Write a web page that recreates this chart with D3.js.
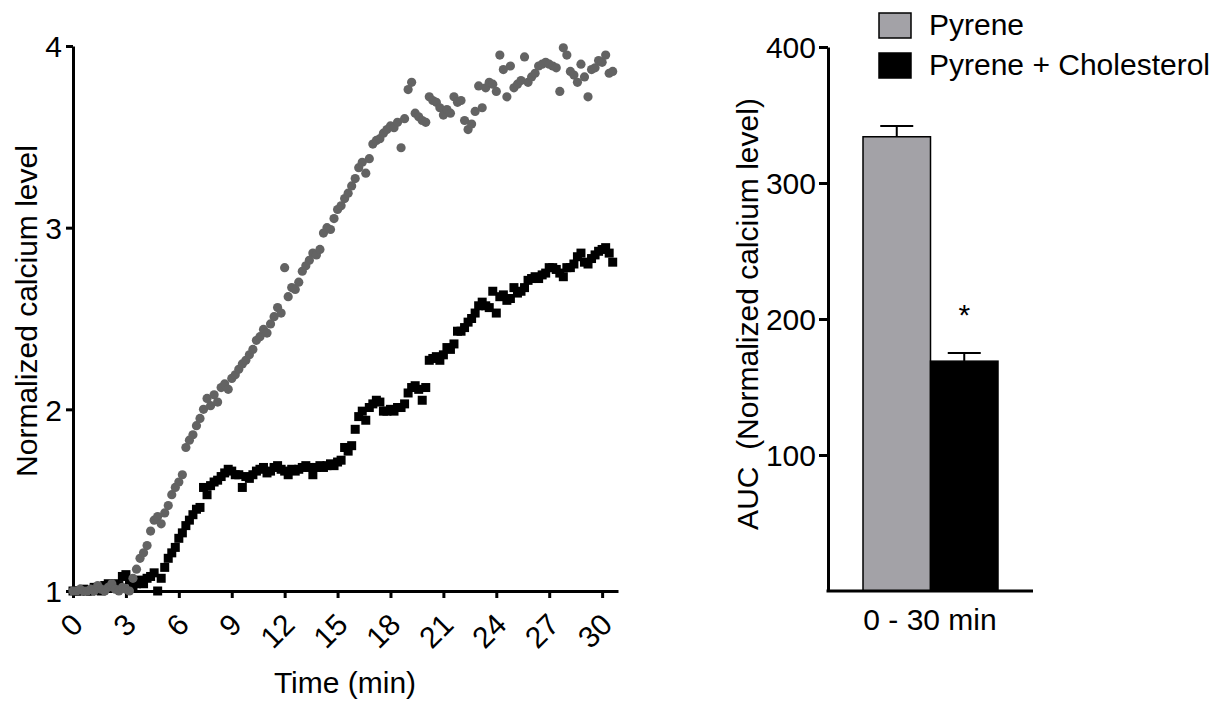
<!DOCTYPE html>
<html>
<head>
<meta charset="UTF-8">
<title>Calcium level</title>
<script src="https://d3js.org/d3.v7.min.js"></script>
<style>
    body { margin: 0; background: white; }
    text { font-family: "Liberation Sans", Arial, sans-serif; fill: black; }
    .axis path, .axis line { stroke: black; stroke-width: 3; }
    .axis text { font-size: 30px; font-family: "Liberation Sans", Arial, sans-serif; }
    .label { font-size: 30px; }
</style>
</head>
<body>
<script>
// sampling interval of the time course (min)
var stepMin = 0.2;

var pyrene = [
    1.00, 1.00, 1.01, 1.00, 1.00, 1.01, 1.00, 1.03, 1.01, 1.00,
    1.02, 1.04, 1.01, 1.00, 1.02, 1.01, 1.00, 1.07, 1.12, 1.18,
    1.21, 1.25, 1.33, 1.39, 1.41, 1.37, 1.43, 1.47, 1.53, 1.57,
    1.60, 1.64, 1.79, 1.83, 1.86, 1.91, 1.95, 2.00, 2.06, 2.02,
    2.08, 2.04, 2.12, 2.14, 2.11, 2.17, 2.19, 2.22, 2.25, 2.27,
    2.30, 2.33, 2.38, 2.40, 2.44, 2.42, 2.47, 2.51, 2.56, 2.53,
    2.78, 2.62, 2.67, 2.66, 2.70, 2.76, 2.79, 2.82, 2.86, 2.85,
    2.88, 2.97, 3.00, 2.99, 3.05, 3.10, 3.12, 3.16, 3.19, 3.23,
    3.27, 3.33, 3.36, 3.30, 3.38, 3.46, 3.48, 3.49, 3.52, 3.54,
    3.56, 3.55, 3.58, 3.44, 3.60, 3.76, 3.80, 3.63, 3.61, 3.59,
    3.58, 3.72, 3.70, 3.69, 3.66, 3.62, 3.65, 3.63, 3.72, 3.69,
    3.70, 3.59, 3.54, 3.57, 3.64, 3.78, 3.66, 3.77, 3.80, 3.79,
    3.75, 3.95, 3.87, 3.72, 3.89, 3.77, 3.79, 3.81, 3.94, 3.80,
    3.83, 3.85, 3.89, 3.90, 3.91, 3.90, 3.89, 3.88, 3.75, 3.99,
    3.95, 3.86, 3.84, 3.80, 3.90, 3.83, 3.72, 3.87, 3.88, 3.92,
    3.91, 3.95, 3.85, 3.86
];

var pyreneChol = [
    1.00, 1.00, 1.00, 1.01, 1.00, 1.00, 1.02, 1.01, 1.00, 1.03,
    1.04, 1.02, 1.04, 1.03, 1.08, 1.09, 1.06, 1.03, 1.04, 1.06,
    1.04, 1.07, 1.08, 1.10, 1.00, 1.07, 1.13, 1.18, 1.21, 1.24,
    1.29, 1.32, 1.36, 1.39, 1.42, 1.45, 1.46, 1.57, 1.53, 1.58,
    1.60, 1.61, 1.63, 1.65, 1.67, 1.66, 1.64, 1.64, 1.57, 1.63,
    1.62, 1.64, 1.66, 1.67, 1.68, 1.65, 1.66, 1.68, 1.69, 1.67,
    1.66, 1.64, 1.67, 1.66, 1.67, 1.68, 1.69, 1.68, 1.64, 1.68,
    1.69, 1.68, 1.69, 1.70, 1.69, 1.71, 1.72, 1.79, 1.77, 1.80,
    1.89, 1.96, 1.99, 1.94, 2.01, 2.03, 2.05, 2.04, 1.99, 1.99,
    2.00, 1.99, 2.01, 2.01, 2.03, 2.09, 2.12, 2.13, 2.11, 2.05,
    2.12, 2.27, 2.28, 2.29, 2.27, 2.30, 2.34, 2.33, 2.36, 2.43,
    2.43, 2.45, 2.48, 2.50, 2.53, 2.57, 2.59, 2.57, 2.56, 2.65,
    2.53, 2.62, 2.63, 2.60, 2.61, 2.67, 2.64, 2.65, 2.67, 2.71,
    2.72, 2.73, 2.72, 2.74, 2.75, 2.78, 2.78, 2.77, 2.75, 2.73,
    2.78, 2.78, 2.80, 2.84, 2.86, 2.81, 2.80, 2.83, 2.85, 2.87,
    2.88, 2.89, 2.86, 2.81
];

var timeTicks = [0, 3, 6, 9, 12, 15, 18, 21, 24, 27, 30];
var levelTicks = [1, 2, 3, 4];

var groups = ["Pyrene", "Pyrene + Cholesterol"];
var aucMeans = [334, 169];
var aucErrors = [8, 6];
var aucTicks = [100, 200, 300, 400];
var groupColors = ["#a3a2a7", "#000000"];

var svg = d3.select("body").append("svg")
    .attr("width", 1229).attr("height", 704);

// ---------- time course ----------
var x = d3.scaleLinear().domain([0, 30.9]).range([73, 618]);
var y = d3.scaleLinear().domain([1, 4]).range([591, 46]);

svg.append("g").attr("class", "axis")
    .attr("transform", "translate(73,0)")
    .call(d3.axisLeft(y).tickValues(levelTicks).tickFormat(d3.format("d"))
        .tickSize(7).tickSizeOuter(0).tickPadding(4))
    .selectAll("text").attr("dy", "0.36em");

var xAxis = svg.append("g").attr("class", "axis")
    .attr("transform", "translate(0,591)")
    .call(d3.axisBottom(x).tickValues(timeTicks).tickSize(7).tickSizeOuter(0));

xAxis.selectAll("text")
    .attr("y", 0).attr("dy", null)
    .attr("text-anchor", "end")
    .attr("dominant-baseline", "central")
    .attr("transform", "translate(4,28) rotate(-45)");

var cholPts = pyreneChol.map(function (v, i) { return { t: i * stepMin, v: v }; });
var pyrPts = pyrene.map(function (v, i) { return { t: i * stepMin, v: v }; });

svg.append("g").selectAll("rect")
    .data(cholPts)
    .enter().append("rect")
    .attr("x", function (d) { return x(d.t) - 4.5; })
    .attr("y", function (d) { return y(d.v) - 4.5; })
    .attr("width", 9).attr("height", 9)
    .attr("fill", "black");

svg.append("g").selectAll("circle")
    .data(pyrPts)
    .enter().append("circle")
    .attr("cx", function (d) { return x(d.t); })
    .attr("cy", function (d) { return y(d.v); })
    .attr("r", 4.6)
    .attr("fill", "#636363");

svg.append("text").attr("class", "label")
    .attr("x", 345).attr("y", 693)
    .attr("text-anchor", "middle")
    .text("Time (min)");

svg.append("text").attr("class", "label")
    .attr("transform", "translate(37,311) rotate(-90)")
    .attr("text-anchor", "middle")
    .text("Normalized calcium level");

// ---------- AUC bars ----------
var yb = d3.scaleLinear().domain([0, 400]).range([591, 47]);
var xb = d3.scaleBand().domain(groups).range([863, 998]).padding(0);

svg.append("g").attr("class", "axis")
    .attr("transform", "translate(828,0)")
    .call(d3.axisLeft(yb).tickValues(aucTicks).tickSize(9).tickSizeOuter(0).tickPadding(3))
    .selectAll("text").attr("dy", "0.36em");

var bars = groups.map(function (g, i) {
    return { group: g, mean: aucMeans[i], err: aucErrors[i], color: groupColors[i] };
});

svg.append("g").selectAll("line")
    .data(bars)
    .enter().append("line")
    .attr("x1", function (d) { return xb(d.group) + xb.bandwidth() / 2; })
    .attr("x2", function (d) { return xb(d.group) + xb.bandwidth() / 2; })
    .attr("y1", function (d) { return yb(d.mean); })
    .attr("y2", function (d) { return yb(d.mean + d.err); })
    .attr("stroke", "black").attr("stroke-width", 2);

svg.append("g").selectAll("line")
    .data(bars)
    .enter().append("line")
    .attr("x1", function (d) { return xb(d.group) + xb.bandwidth() / 2 - 16.5; })
    .attr("x2", function (d) { return xb(d.group) + xb.bandwidth() / 2 + 16.5; })
    .attr("y1", function (d) { return yb(d.mean + d.err); })
    .attr("y2", function (d) { return yb(d.mean + d.err); })
    .attr("stroke", "black").attr("stroke-width", 2);

svg.append("g").selectAll("rect")
    .data(bars)
    .enter().append("rect")
    .attr("x", function (d) { return xb(d.group); })
    .attr("y", function (d) { return yb(d.mean); })
    .attr("width", xb.bandwidth())
    .attr("height", function (d) { return yb(0) - yb(d.mean); })
    .attr("fill", function (d) { return d.color; })
    .attr("stroke", "black").attr("stroke-width", 1.5);

// significance mark
svg.append("text").attr("class", "label")
    .attr("x", xb(groups[1]) + xb.bandwidth() / 2)
    .attr("y", yb(aucMeans[1] + aucErrors[1]) - 28)
    .attr("text-anchor", "middle")
    .text("*");

// x axis of the bar panel
svg.append("line")
    .attr("x1", 826.5).attr("x2", 1033)
    .attr("y1", 591).attr("y2", 591)
    .attr("stroke", "black").attr("stroke-width", 3);

svg.append("text").attr("class", "label")
    .attr("x", 930).attr("y", 630)
    .attr("text-anchor", "middle")
    .text("0 - 30 min");

svg.append("text").attr("class", "label")
    .attr("transform", "translate(758,314) rotate(-90)")
    .attr("text-anchor", "middle")
    .style("white-space", "pre")
    .text("AUC  (Normalized calcium level)");

// legend
var legend = svg.append("g").selectAll("g")
    .data(bars)
    .enter().append("g")
    .attr("transform", function (d, i) { return "translate(879," + (13 + i * 40) + ")"; });

legend.append("rect")
    .attr("width", 32).attr("height", 25)
    .attr("fill", function (d) { return d.color; })
    .attr("stroke", "black").attr("stroke-width", 1.5);

legend.append("text").attr("class", "label")
    .attr("x", 50).attr("y", 22)
    .text(function (d) { return d.group; });
</script>
</body>
</html>
